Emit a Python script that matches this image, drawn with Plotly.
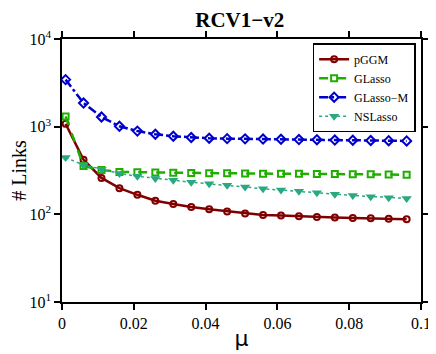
import plotly.graph_objects as go

# значения mu и число связей для каждого метода
mu = [0.001, 0.006, 0.011, 0.016, 0.021, 0.026, 0.031, 0.036, 0.041, 0.046,
      0.051, 0.056, 0.061, 0.066, 0.071, 0.076, 0.081, 0.086, 0.091, 0.096]
pggm = [1080, 420, 260, 199, 167, 143, 131, 121, 114, 108,
        102, 98, 97, 95, 93, 92, 91, 90, 89, 88]
glasso = [1310, 355, 320, 305, 302, 300, 298, 297, 295, 294,
          292, 291, 290, 290, 289, 288, 287, 286, 285, 283]
glasso_m = [3440, 1860, 1290, 1010, 890, 820, 778, 752, 738, 730,
            726, 722, 718, 713, 710, 703, 700, 695, 692, 687]
nslasso = [444, 366, 327, 292, 272, 256, 245, 232, 224, 215,
           205, 196, 190, 183, 176, 170, 164, 159, 155, 152]

x_ticks = [0, 0.02, 0.04, 0.06, 0.08, 0.1]
x_labels = ['0', '0.02', '0.04', '0.06', '0.08', '0.1']
y_ticks = [10, 100, 1000, 10000]
y_labels = ['10<sup>1</sup>', '10<sup>2</sup>', '10<sup>3</sup>', '10<sup>4</sup>']

serif = 'Liberation Serif'

fig = go.Figure()
fig.add_trace(go.Scatter(
    x=mu, y=pggm, name='pGGM', mode='lines+markers',
    line=dict(color='#800000', width=2.5),
    marker=dict(symbol='circle-open', size=6, color='#800000', line=dict(width=2))
))
fig.add_trace(go.Scatter(
    x=mu, y=glasso, name='GLasso', mode='lines+markers',
    line=dict(color='#1fae00', width=2.5, dash='dash'),
    marker=dict(symbol='square-open', size=6, color='#1fae00', line=dict(width=2))
))
fig.add_trace(go.Scatter(
    x=mu, y=glasso_m, name='GLasso\u2212M', mode='lines+markers',
    line=dict(color='#0000cc', width=2.5, dash='dashdot'),
    marker=dict(symbol='diamond-open', size=7, color='#0000cc', line=dict(width=2))
))
fig.add_trace(go.Scatter(
    x=mu, y=nslasso, name='NSLasso', mode='lines+markers',
    line=dict(color='#2aa882', width=1.5, dash='dot'),
    marker=dict(symbol='triangle-down', size=9, color='#2aa882')
))

# страница добавляет отступ 8px, поэтому фигура чуть меньше окна
fig.update_layout(
    width=428, height=346,
    margin=dict(l=54, r=15, t=31, b=52),
    plot_bgcolor='white', paper_bgcolor='white',
    font=dict(family=serif, color='black', size=16),
    title=dict(text='<b>RCV1\u2212v2</b>', x=0.495, xref='paper', xanchor='center',
               y=0.965, yanchor='middle',
               font=dict(size=21, family=serif)),
    showlegend=True,
    legend=dict(x=0.985, xanchor='right', y=0.984, yanchor='top',
                bgcolor='white', bordercolor='black', borderwidth=1.5,
                font=dict(size=12, family=serif), tracegroupgap=0,
                itemwidth=30),
)
fig.update_xaxes(
    range=[0, 0.1], tickvals=x_ticks, ticktext=x_labels, automargin=False,
    tickfont=dict(family=serif, size=16),
    showgrid=False, zeroline=False, showline=True, linecolor='black', linewidth=1.5,
    mirror='ticks', ticks='outside', ticklen=6, tickwidth=1.5, tickcolor='black',
    title=dict(text='\u03bc', font=dict(size=22, family='DejaVu Sans'), standoff=0),
)
fig.update_yaxes(
    type='log', range=[1, 4], tickvals=y_ticks, ticktext=y_labels, automargin=False,
    tickfont=dict(family=serif, size=16),
    showgrid=False, zeroline=False, showline=True, linecolor='black', linewidth=1.5,
    mirror='ticks', ticks='outside', ticklen=6, tickwidth=1.5, tickcolor='black',
    title=dict(text='# Links', font=dict(size=20, family=serif), standoff=4),
)

fig.write_html('out.html')
